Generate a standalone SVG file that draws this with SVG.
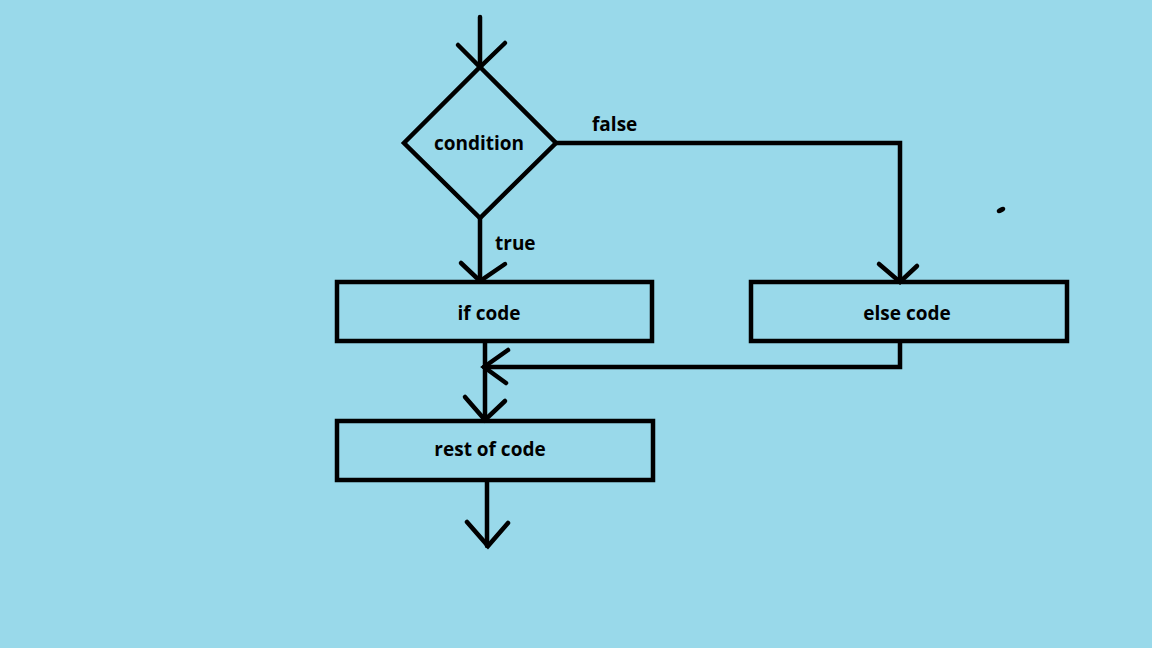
<svg xmlns="http://www.w3.org/2000/svg" width="1152" height="648" viewBox="0 0 1152 648">
<style>
.ln{fill:none;stroke:#000;stroke-width:4.5;stroke-linecap:round;stroke-linejoin:miter}
.bx{fill:none;stroke:#000;stroke-width:4.5}
.t{font-family:"Open Sans","Noto Sans",sans-serif;font-weight:700;font-size:19px;fill:#000;text-anchor:middle;dominant-baseline:central}
.lb{font-family:"Open Sans","Noto Sans",sans-serif;font-weight:700;font-size:19px;fill:#000;dominant-baseline:central}
</style>
<rect x="0" y="0" width="1152" height="648" fill="#99D9EA"/>
<g id="connectors">
<path class="ln" d="M480,17 V67"/>
<path class="ln" d="M458,45 L480,67 L505,43"/>
<path class="ln" d="M556,143 H900 V282"/>
<path class="ln" d="M879,264 L900,282 L917,266"/>
<path class="ln" d="M480,218 V281"/>
<path class="ln" d="M461,263 L480,281 L505,264"/>
<path class="ln" d="M900,342 V367 H484"/>
<path class="ln" d="M508,350 L484,367 L506,383"/>
<path class="ln" d="M485,342 V420"/>
<path class="ln" d="M465,397 L485,420 L505,401"/>
<path class="ln" d="M487,481 V546"/>
<path class="ln" d="M467,522 L488,546 L508,523"/>
<text class="lb" x="592" y="124">false</text>
<text class="lb" x="495" y="243">true</text>
</g>
<g id="condition">
<polygon class="bx" points="480,67 556,143 480,218 404,143"/>
<text class="t" x="479" y="143">condition</text>
</g>
<g id="if-code">
<rect class="bx" x="337" y="282" width="315" height="59"/>
<text class="t" x="489" y="313">if code</text>
</g>
<g id="else-code">
<rect class="bx" x="751" y="282" width="316" height="59"/>
<text class="t" x="907" y="313">else code</text>
</g>
<g id="rest-of-code">
<rect class="bx" x="337" y="421" width="316" height="59"/>
<text class="t" x="490" y="449">rest of code</text>
</g>
<ellipse cx="1001" cy="210" rx="4.5" ry="2.5" transform="rotate(-25 1001 210)" fill="#000"/>
</svg>
